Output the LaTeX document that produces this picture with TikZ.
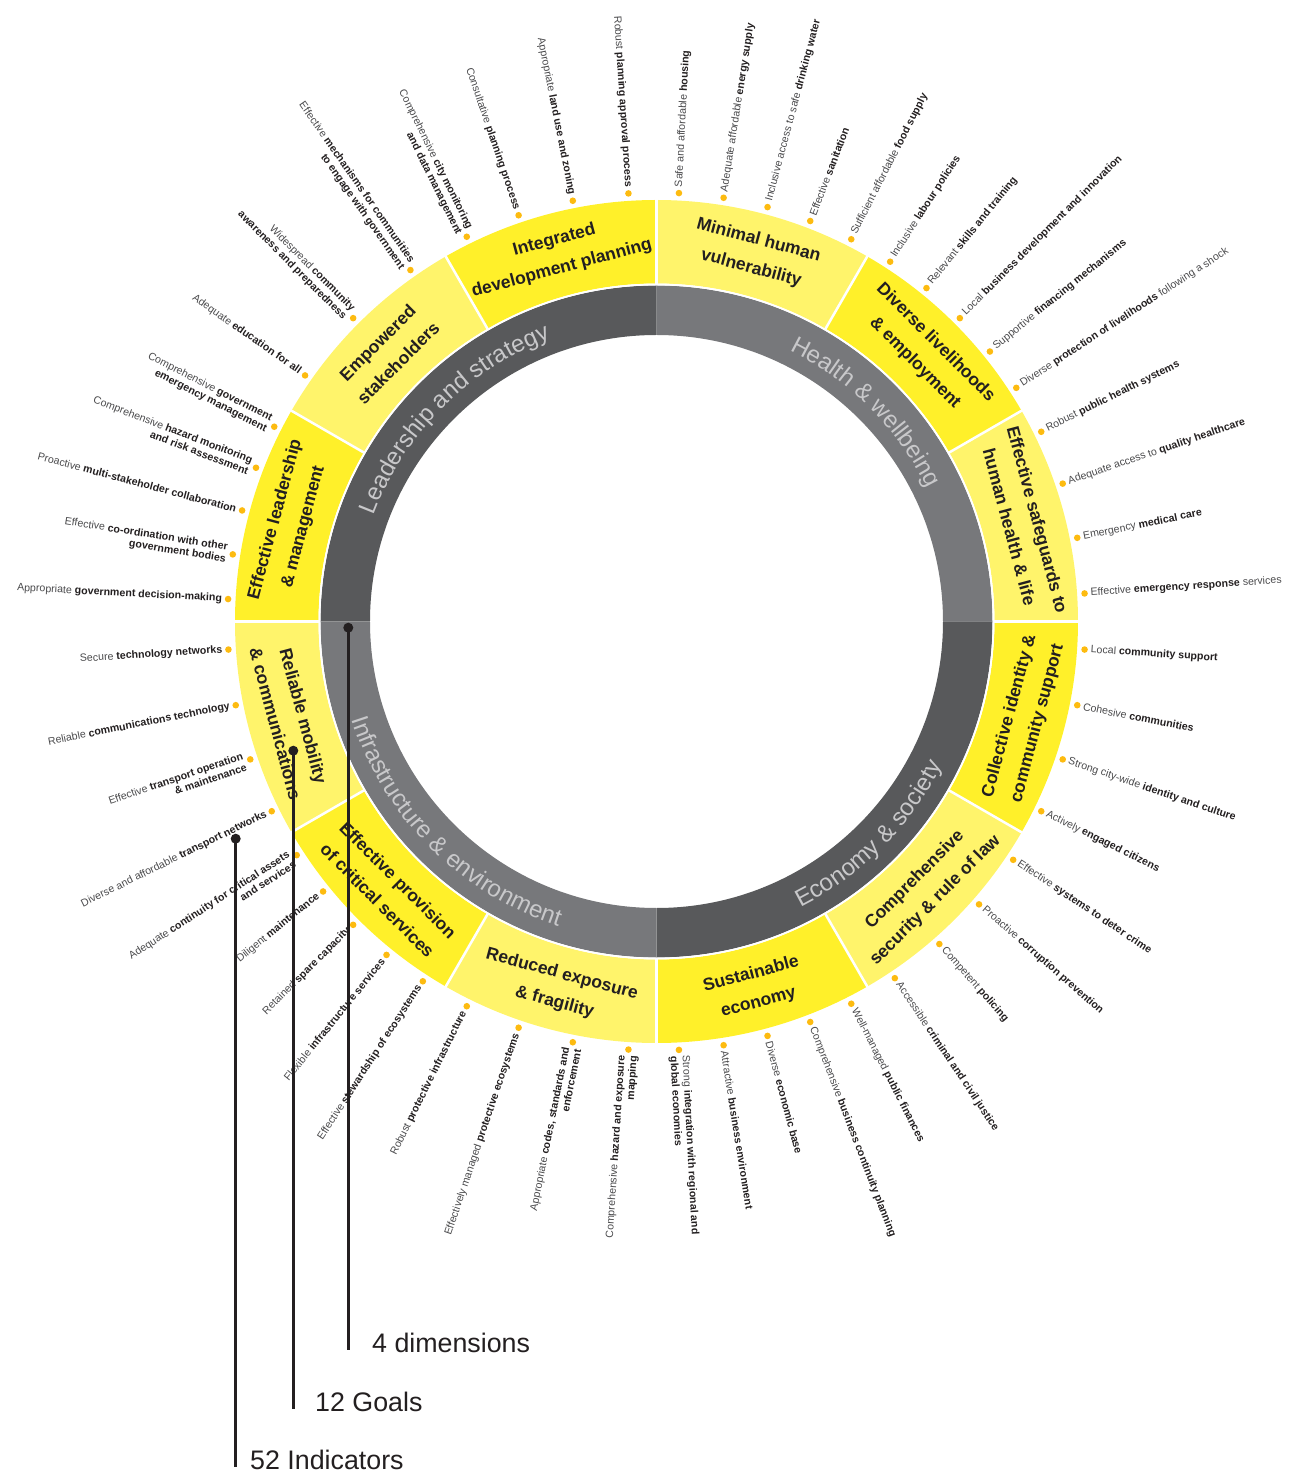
\documentclass[tikz,border=0pt]{standalone}
\usepackage{fontspec}
\setmainfont{Liberation Sans}
\usepackage{tikz}
\usetikzlibrary{decorations.text, calc}

\definecolor{goalbright}{HTML}{FFF02A}
\definecolor{goallight}{HTML}{FFF46B}
\definecolor{dimdark}{HTML}{58595B}
\definecolor{dimmid}{HTML}{77787B}
\definecolor{dimtext}{HTML}{C8C8CA}
\definecolor{dotorange}{HTML}{FDBB10}
\definecolor{txtdark}{HTML}{231F20}
\definecolor{txtgray}{HTML}{4A4A4C}

\newcommand{\indfont}{\fontsize{10.6}{12}\selectfont}
\newcommand{\goalfont}{\fontsize{17.5}{29}\selectfont\bfseries}
\newcommand{\dimfont}{\fontsize{24}{28}\selectfont}
\newcommand{\legfont}{\fontsize{26.8}{30}\selectfont}
\newcommand{\kw}[1]{\textbf{\color{txtdark}#1}}

\begin{document}
\begin{tikzpicture}[x=1pt, y=1pt,
    goal/.style={font=\goalfont, text=txtdark, align=center, inner sep=0pt},
    indr/.style={anchor=west, align=left, inner sep=0pt, font=\indfont, text=txtgray},
    indl/.style={anchor=east, align=right, inner sep=0pt, font=\indfont, text=txtgray},
    legend/.style={anchor=west, inner sep=0pt, font=\legfont, text=txtdark},
    pin/.style={draw=txtdark, line width=2.5pt}
]
\useasboundingbox (-656.5,-855.5) rectangle (644.5,621.5);

% Goal ring
\foreach \s/\c in {90/goallight, 60/goalbright, 30/goallight, 0/goalbright,
                   -30/goallight, -60/goalbright, -90/goallight, -120/goalbright,
                   -150/goallight, 180/goalbright, 150/goallight, 120/goalbright}
  \fill[\c] (\s:338) arc[start angle=\s, end angle=\s-30, radius=338]
     -- (\s-30:421.5) arc[start angle=\s-30, end angle=\s, radius=421.5] -- cycle;
\foreach \a in {0,30,...,330}
  \draw[white, line width=2.5pt] (\a:336) -- (\a:423);

% Dimension ring
\foreach \s/\c in {90/dimdark, 0/dimmid, -90/dimdark, -180/dimmid}
  \fill[\c] (\s:286.5) arc[start angle=\s, end angle=\s+90, radius=286.5]
     -- (\s+90:336) arc[start angle=\s+90, end angle=\s, radius=336] -- cycle;
\draw[white, line width=1.8pt] (0,0) circle[radius=337];

\path[decorate, decoration={text along path, text align=center, text color=dimtext,
    text={|\dimfont|Leadership and strategy}}] (180:302) arc[start angle=180, end angle=90, radius=302];
\path[decorate, decoration={text along path, text align=center, text color=dimtext,
    text={|\dimfont|Health {\&} wellbeing}}] (90:302) arc[start angle=90, end angle=0, radius=302];
\path[decorate, decoration={text along path, text align=center, text color=dimtext,
    text={|\dimfont|Economy {\&} society}}] (-90:320) arc[start angle=-90, end angle=0, radius=320];
\path[decorate, decoration={text along path, text align=center, text color=dimtext,
    text={|\dimfont|Infrastructure {\&} environment}}] (180:320) arc[start angle=180, end angle=270, radius=320];

% Goals
\node[goal, rotate=15]  (planning)    at (105:380)  {Integrated\\development planning};
\node[goal, rotate=-15] (vulner)      at (75:380)   {Minimal human\\vulnerability};
\node[goal, rotate=-45] (livelihoods) at (45:380)   {Diverse livelihoods\\\& employment};
\node[goal, rotate=-75] (safeguards)  at (15:380)   {Effective safeguards to\\human health \& life};
\node[goal, rotate=75]  (identity)    at (-15:380)  {Collective identity \&\\community support};
\node[goal, rotate=45]  (security)    at (-45:380)  {Comprehensive\\security \& rule of law};
\node[goal, rotate=15]  (economy)     at (-75:380)  {Sustainable\\economy};
\node[goal, rotate=-15] (exposure)    at (-105:380) {Reduced exposure\\\& fragility};
\node[goal, rotate=-45] (services)    at (-135:380) {Effective provision\\of critical services};
\node[goal, rotate=-75] (mobility)    at (-165:380) {Reliable mobility\\\& communications};
\node[goal, rotate=75]  (leadership)  at (165:380)  {Effective leadership\\\& management};
\node[goal, rotate=45]  (stakeholder) at (135:380)  {Empowered\\stakeholders};

% Indicators, right half
\foreach \a/\t [count=\i] in {
    87/{Safe and affordable \kw{housing}},
    81/{Adequate affordable \kw{energy supply}},
    75/{Inclusive access to safe \kw{drinking water}},
    69/{Effective \kw{sanitation}},
    63/{Sufficient affordable \kw{food supply}},
    57/{Inclusive \kw{labour policies}},
    51/{Relevant \kw{skills and training}},
    45/{Local \kw{business development and innovation}},
    39/{Supportive \kw{financing mechanisms}},
    33/{Diverse \kw{protection of livelihoods} following a shock},
    26.25/{Robust \kw{public health systems}},
    18.75/{Adequate access to \kw{quality healthcare}},
    11.25/{Emergency \kw{medical care}},
    3.75/{Effective \kw{emergency response} services},
    -3.75/{Local \kw{community support}},
    -11.25/{Cohesive \kw{communities}},
    -18.75/{Strong city-wide \kw{identity and culture}},
    -26.25/{Actively \kw{engaged citizens}},
    -33.75/{Effective \kw{systems to deter crime}},
    -41.25/{Proactive \kw{corruption prevention}},
    -48.75/{Competent \kw{policing}},
    -56.25/{Accessible \kw{criminal and civil justice}},
    -63/{Well-managed \kw{public finances}},
    -69/{Comprehensive \kw{business continuity planning}},
    -75/{Diverse \kw{economic base}},
    -81/{Attractive \kw{business environment}},
    -87/{Strong \kw{integration with regional and}\\\kw{global economies}}}
{
  \fill[dotorange] (\a:429) circle[radius=3.3];
  \node[indr, rotate=\a] (indR\i) at (\a:435) {\t};
}

% Indicators, left half
\foreach \a/\t [count=\i] in {
    93.75/{Robust \kw{planning approval process}},
    101.25/{Appropriate \kw{land use and zoning}},
    108.75/{Consultative \kw{planning process}},
    116.25/{Comprehensive \kw{city monitoring}\\\kw{and data management}},
    125/{Effective \kw{mechanisms for communities}\\\kw{to engage with government}},
    135/{Widespread \kw{community}\\\kw{awareness and preparedness}},
    145/{Adequate \kw{education for all}},
    153/{Comprehensive \kw{government}\\\kw{emergency management}},
    159/{Comprehensive \kw{hazard monitoring}\\\kw{and risk assessment}},
    165/{Proactive \kw{multi-stakeholder collaboration}},
    171/{Effective \kw{co-ordination with other}\\\kw{government bodies}},
    177/{Appropriate \kw{government decision-making}},
    -176.25/{Secure \kw{technology networks}},
    -168.75/{Reliable \kw{communications technology}},
    -161.25/{Effective \kw{transport operation}\\\kw{\& maintenance}},
    -153.75/{Diverse and affordable \kw{transport networks}},
    -147/{Adequate \kw{continuity for critical assets}\\\kw{and services}},
    -141/{Diligent \kw{maintenance}},
    -135/{Retained \kw{spare capacity}},
    -129/{Flexible \kw{infrastructure services}},
    -123/{Effective \kw{stewardship of ecosystems}},
    -116.25/{Robust \kw{protective infrastructure}},
    -108.75/{Effectively managed \kw{protective ecosystems}},
    -101.25/{Appropriate \kw{codes, standards and}\\\kw{enforcement}},
    -93.75/{Comprehensive \kw{hazard and exposure}\\\kw{mapping}}}
{
  \fill[dotorange] (\a:429) circle[radius=3.3];
  \node[indl, rotate=\a+180] (indL\i) at (\a:435) {\t};
}

% Legend
\coordinate (dimdot)  at (-308.2,-6.2);
\coordinate (goaldot) at (-363.2,-129.2);
\coordinate (inddot)  at (-420.8,-217.2);
\node[legend] (dimlbl)  at (-284.5,-721.5) {4 dimensions};
\node[legend] (goallbl) at (-341.5,-780.5) {12 Goals};
\node[legend] (indlbl)  at (-406.5,-838.5) {52 Indicators};
\draw[pin] (dimdot) -- (dimdot |- dimlbl.mid);
\draw[pin] (goaldot) -- (goaldot |- goallbl.mid);
\draw[pin] (inddot) -- (inddot |- indlbl.mid);
\foreach \p in {dimdot, goaldot, inddot}
  \fill[txtdark] (\p) circle[radius=5];

\end{tikzpicture}
\end{document}
